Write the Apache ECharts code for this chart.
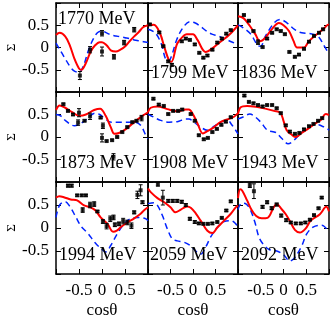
<!DOCTYPE html>
<html>
<head>
<meta charset="utf-8">
<script src="https://cdn.jsdelivr.net/npm/echarts@6/dist/echarts.min.js"></script>
<style>
  html, body { margin: 0; padding: 0; background: #fff; }
  #main { width: 332px; height: 320px; }
</style>
</head>
<body>
<div id="main"></div>
<script>
// panel titles (beam energy)
var energies = ['1770 MeV', '1799 MeV', '1836 MeV', '1873 MeV', '1908 MeV', '1943 MeV', '1994 MeV', '2059 MeV', '2092 MeV'];
var xTicks = [-0.5, 0, 0.5];
var yTicks = [-0.5, 0, 0.5];

// red solid curves [cos, Sigma]
var red1770 = [[-1,0.28],[-0.92,0.33],[-0.8,0.25],[-0.7,0.05],[-0.6,-0.25],[-0.5,-0.47],[-0.45,-0.5],[-0.35,-0.35],[-0.25,-0.1],[-0.15,0.05],[-0.05,0.12],[0,0.12],[0.1,0.05],[0.2,-0.07],[0.3,-0.09],[0.4,-0.05],[0.5,0.02],[0.6,0.14],[0.7,0.25],[0.8,0.35],[0.9,0.46],[1,0.5]];
var red1799 = [[-1,0.5],[-0.87,0.51],[-0.73,0.31],[-0.64,0.02],[-0.53,-0.3],[-0.48,-0.32],[-0.35,0.09],[-0.2,0.27],[-0.14,0.3],[0,0.3],[0.1,0.17],[0.28,-0.1],[0.43,-0.02],[0.61,0.13],[0.8,0.28],[1,0.5]];
var red1836 = [[-1,0.7],[-0.88,0.66],[-0.75,0.5],[-0.62,0.3],[-0.52,0.14],[-0.4,0.22],[-0.25,0.42],[-0.1,0.55],[0,0.5],[0.12,0.37],[0.22,0.15],[0.3,0],[0.45,0],[0.55,0.13],[0.7,0.27],[0.87,0.41],[0.96,0.5],[1,0.52]];
var red1873 = [[-1,0.6],[-0.92,0.7],[-0.8,0.65],[-0.65,0.55],[-0.48,0.47],[-0.35,0.5],[-0.17,0.6],[-0.04,0.63],[0.08,0.47],[0.19,0.22],[0.27,0.07],[0.37,0.09],[0.51,0.17],[0.7,0.33],[0.88,0.47],[1,0.55]];
var red1908 = [[-1,0.55],[-0.94,0.65],[-0.79,0.68],[-0.57,0.62],[-0.35,0.57],[-0.16,0.61],[-0.09,0.61],[-0.01,0.52],[0.1,0.3],[0.22,0.08],[0.32,0.13],[0.47,0.22],[0.61,0.33],[0.76,0.39],[0.91,0.45],[1,0.53]];
var red1943 = [[-1,0.51],[-0.94,0.66],[-0.8,0.69],[-0.6,0.67],[-0.4,0.63],[-0.21,0.58],[-0.07,0.54],[0,0.36],[0.07,0.15],[0.17,0.06],[0.26,0],[0.4,0.09],[0.52,0.17],[0.7,0.3],[0.82,0.38],[0.93,0.51],[1,0.49]];
var red1994 = [[-1,0.66],[-0.93,0.69],[-0.83,0.67],[-0.68,0.62],[-0.54,0.6],[-0.39,0.49],[-0.25,0.45],[-0.14,0.38],[-0.03,0.23],[0.12,0.09],[0.24,-0.08],[0.33,-0.05],[0.41,0.02],[0.55,0.12],[0.7,0.21],[0.84,0.31],[0.91,0.38],[1,0.45]];
var red2059 = [[-1,0.86],[-0.94,0.78],[-0.79,0.65],[-0.64,0.56],[-0.5,0.45],[-0.39,0.34],[-0.27,0.4],[-0.13,0.47],[-0.05,0.44],[0.06,0.32],[0.17,0.16],[0.32,-0.06],[0.43,-0.11],[0.54,0.01],[0.69,0.16],[0.84,0.31],[0.95,0.45],[1,0.49]];
var red2092 = [[-1,0.65],[-0.95,0.84],[-0.9,0.8],[-0.8,0.6],[-0.7,0.39],[-0.6,0.26],[-0.48,0.21],[-0.35,0.22],[-0.22,0.44],[-0.15,0.52],[-0.05,0.42],[0.05,0.3],[0.14,0.15],[0.25,-0.04],[0.36,-0.1],[0.48,-0.02],[0.6,0.16],[0.8,0.3],[0.94,0.46],[1,0.36]];

// blue dashed curves
var blue1770 = [[-1,0.1],[-0.9,-0.08],[-0.8,-0.25],[-0.7,-0.42],[-0.6,-0.53],[-0.5,-0.56],[-0.4,-0.4],[-0.3,-0.08],[-0.2,0.17],[-0.1,0.33],[0,0.37],[0.1,0.33],[0.2,0.28],[0.3,0.26],[0.4,0.24],[0.5,0.22],[0.6,0.2],[0.7,0.17],[0.8,0.15],[0.9,0.13],[1,0.11]];
var blue1799 = [[-1,0.41],[-0.84,0.33],[-0.7,0.07],[-0.62,-0.23],[-0.55,-0.31],[-0.48,-0.2],[-0.36,0.18],[-0.22,0.45],[-0.07,0.58],[0.05,0.55],[0.16,0.48],[0.3,0.37],[0.42,0.3],[0.56,0.26],[0.7,0.2],[0.85,0.13],[1,0.07]];
var blue1836 = [[-1,0.51],[-0.88,0.44],[-0.72,0.3],[-0.57,0.05],[-0.5,0.03],[-0.4,0.25],[-0.2,0.56],[-0.07,0.63],[0.08,0.55],[0.25,0.4],[0.4,0.33],[0.6,0.31],[0.76,0.25],[0.88,0.06],[1,-0.15]];
var blue1873 = [[-1,0.5],[-0.9,0.47],[-0.8,0.37],[-0.6,0.25],[-0.5,0.28],[-0.35,0.38],[-0.15,0.53],[-0.05,0.5],[0.05,0.42],[0.2,0.33],[0.4,0.33],[0.7,0.33],[0.84,0.26],[0.95,0.04],[1,-0.04]];
var blue1908 = [[-1,0.51],[-0.87,0.44],[-0.72,0.37],[-0.53,0.33],[-0.35,0.34],[-0.16,0.4],[-0.09,0.4],[0.02,0.33],[0.17,0.22],[0.32,0.15],[0.47,0.24],[0.61,0.33],[0.76,0.37],[0.87,0.26],[1,0.07]];
var blue1943 = [[-1,0.4],[-0.9,0.44],[-0.74,0.51],[-0.65,0.47],[-0.5,0.33],[-0.35,0.15],[-0.17,0.1],[-0.03,-0.04],[0.1,-0.15],[0.2,-0.1],[0.4,0.1],[0.52,0.18],[0.71,0.29],[0.85,0.24],[0.95,0.2],[1,0.15]];
var blue1994 = [[-1,0.23],[-0.92,0.5],[-0.8,0.57],[-0.7,0.47],[-0.58,0.26],[-0.45,0.03],[-0.32,-0.1],[-0.15,-0.32],[-0.02,-0.45],[0.08,-0.52],[0.19,-0.38],[0.33,-0.13],[0.48,0.09],[0.62,0.2],[0.8,0.23],[0.95,0.2],[1,0.16]];
var blue2059 = [[-1,0.53],[-0.87,0.55],[-0.79,0.49],[-0.68,0.27],[-0.57,-0.02],[-0.46,-0.24],[-0.35,-0.28],[-0.2,-0.31],[-0.05,-0.39],[0.06,-0.5],[0.17,-0.57],[0.28,-0.42],[0.39,-0.2],[0.54,0.01],[0.69,0.14],[0.84,0.16],[0.95,0.09],[1,0.01]];
var blue2092 = [[-1,0.4],[-0.92,0.54],[-0.82,0.52],[-0.73,0.4],[-0.63,0.13],[-0.52,-0.24],[-0.33,-0.46],[-0.15,-0.5],[0,-0.58],[0.14,-0.72],[0.25,-0.64],[0.4,-0.39],[0.51,-0.13],[0.65,0.02],[0.84,0.06],[1,-0.09]];

// measured points [cos, Sigma, error]
var pts1770 = [[-0.48,-0.63,0.09],[-0.26,-0.05,0.07],[0,0.32,0.06],[0,-0.09,0.1],[0.26,-0.21,0.05],[0.48,0.11,0.05],[0.7,0.4,0.05]];
var pts1799 = [[-0.96,0.52,0.02],[-0.75,0.34,0.02],[-0.66,0.03,0.02],[-0.55,-0.31,0.02],[-0.47,-0.39,0.03],[-0.25,0.14,0.02],[-0.16,0.2,0.02],[-0.07,0.17,0.02],[0.04,0.07,0.02],[0.14,-0.12,0.02],[0.23,-0.23,0.02],[0.32,-0.18,0.02],[0.43,-0.05,0.02],[0.54,0.11,0.02],[0.64,0.2,0.02],[0.74,0.31,0.02],[0.84,0.39,0.02]];
var pts1836 = [[-0.87,0.73,0.02],[-0.76,0.6,0.02],[-0.66,0.37,0.02],[-0.56,0.12,0.05],[-0.46,0.01,0.02],[-0.36,0.2,0.02],[-0.25,0.33,0.02],[-0.15,0.41,0.02],[-0.06,0.37,0.02],[0.03,0.3,0.02],[0.13,-0.1,0.02],[0.25,-0.21,0.02],[0.34,-0.16,0.02],[0.45,-0.03,0.02],[0.56,0.13,0.02],[0.67,0.26,0.02],[0.78,0.33,0.02],[0.87,0.41,0.02]];
var pts1873 = [[-0.84,0.73,0.02],[-0.74,0.58,0.02],[-0.63,0.5,0.02],[-0.52,0.32,0.06],[-0.5,0.54,0.09],[-0.38,0.36,0.02],[-0.26,0.46,0.07],[-0.03,0.43,0.02],[0.02,0.25,0.06],[0,-0.02,0.09],[0.1,-0.09,0.02],[0.22,-0.07,0.02],[0.33,0,0.02],[0.44,0.11,0.02],[0.55,0.22,0.02],[0.66,0.33,0.02],[0.75,0.36,0.02],[0.86,0.42,0.06],[0.25,-0.44,0.07]];
var pts1908 = [[-0.88,0.85,0.02],[-0.76,0.72,0.02],[-0.65,0.69,0.02],[-0.55,0.51,0.02],[-0.44,0.58,0.02],[-0.33,0.58,0.02],[-0.24,0.61,0.02],[-0.05,0.51,0.02],[0.04,0.36,0.02],[0.13,0.04,0.02],[0.24,-0.05,0.02],[0.33,-0.02,0.02],[0.43,0.11,0.02],[0.53,0.18,0.02],[0.63,0.27,0.02],[0.73,0.34,0.02],[0.84,0.44,0.02]];
var pts1943 = [[-0.86,0.92,0.02],[-0.76,0.78,0.02],[-0.66,0.75,0.02],[-0.56,0.71,0.02],[-0.46,0.68,0.02],[-0.36,0.71,0.02],[-0.25,0.71,0.02],[-0.15,0.64,0.02],[-0.06,0.53,0.02],[0.05,0.26,0.02],[0.14,0.12,0.02],[0.25,0.07,0.02],[0.35,0.09,0.02],[0.45,0.17,0.02],[0.56,0.24,0.02],[0.66,0.29,0.02],[0.76,0.36,0.02],[0.85,0.42,0.02]];
var pts1994 = [[-0.74,0.92,0.03],[-0.66,0.92,0.03],[-0.54,0.71,0.02],[-0.44,0.71,0.02],[-0.35,0.71,0.02],[-0.42,0.39,0.05],[-0.26,0.5,0.06],[-0.17,0.52,0.05],[-0.1,0.36,0.02],[0.02,0.14,0.04],[0.1,0.04,0.06],[0.18,0.2,0.06],[0.25,0.23,0.05],[0.28,0.07,0.04],[0.37,0.09,0.04],[0.46,0.15,0.06],[0.55,0.12,0.05],[0.64,0.05,0.06],[0.7,0.34,0.03],[0.77,0.72,0.08],[0.84,0.82,0.12],[0.88,0.56,0.03]];
var pts2059 = [[-0.78,0.95,0.04],[-0.67,0.66,0.16],[-0.55,0.59,0.03],[-0.45,0.59,0.03],[-0.35,0.59,0.03],[-0.25,0.57,0.03],[-0.16,0.5,0.03],[-0.07,0.2,0.03],[0.04,0.13,0.03],[0.13,0.1,0.02],[0.23,0.09,0.02],[0.33,0.09,0.02],[0.43,0.1,0.02],[0.54,0.13,0.02],[0.64,0.22,0.02],[0.74,0.38,0.02],[0.84,0.58,0.02]];
var pts2092 = [[-0.74,0.93,0.05],[-0.65,0.8,0.16],[-0.46,0.46,0.03],[-0.36,0.56,0.03],[-0.26,0.43,0.03],[-0.15,0.51,0.03],[-0.05,0.27,0.03],[0.06,0.17,0.03],[0.16,0.12,0.02],[0.27,0.1,0.02],[0.38,0.1,0.02],[0.48,0.12,0.02],[0.58,0.18,0.02],[0.67,0.28,0.02],[0.77,0.43,0.02],[0.84,0.66,0.02]];

var redCurves = [red1770, red1799, red1836, red1873, red1908, red1943, red1994, red2059, red2092];
var blueCurves = [blue1770, blue1799, blue1836, blue1873, blue1908, blue1943, blue1994, blue2059, blue2092];
var points = [pts1770, pts1799, pts1836, pts1873, pts1908, pts1943, pts1994, pts2059, pts2092];

// layout
var colLeft = [56, 148, 238], colW = [92, 90, 91];
var rowTop = [3, 92, 182], rowH = [89, 90, 92];
var labelPos = [[58, 10], [151, 64], [240, 64], [59, 154], [151, 154], [241, 154], [59, 246], [150, 246], [241, 246]];

var FONT = 'Liberation Serif';
var chart = echarts.init(document.getElementById('main'), null, { renderer: 'canvas' });

function tickText(v) {
  for (var k = 0; k < xTicks.length; k++) if (Math.abs(v - xTicks[k]) < 1e-9) return String(xTicks[k]);
  return '';
}

function renderErr(params, api) {
  var x = api.value(0), y = api.value(1), e = api.value(2);
  var lo = api.coord([x, y - e]), hi = api.coord([x, y + e]);
  var w = 2;
  var st = { stroke: '#000', lineWidth: 1 };
  return { type: 'group', children: [
    { type: 'line', shape: { x1: lo[0], y1: lo[1], x2: hi[0], y2: hi[1] }, style: st },
    { type: 'line', shape: { x1: lo[0] - w, y1: lo[1], x2: lo[0] + w, y2: lo[1] }, style: st },
    { type: 'line', shape: { x1: hi[0] - w, y1: hi[1], x2: hi[0] + w, y2: hi[1] }, style: st }
  ]};
}

var grid = [], xAxis = [], yAxis = [], series = [], title = [];
var lineBox = { show: true, onZero: false, lineStyle: { color: '#000', width: 1.5 } };
var tickIn = { show: true, inside: true, length: 5, lineStyle: { color: '#000', width: 1 } };

for (var i = 0; i < 9; i++) {
  var r = Math.floor(i / 3), c = i % 3;
  grid.push({ left: colLeft[c], top: rowTop[r], width: colW[c], height: rowH[r], containLabel: false });
  var bottomRow = r === 2, leftCol = c === 0;
  xAxis.push({
    type: 'value', gridIndex: i, min: -1, max: 1, interval: 0.5, position: 'bottom',
    axisLine: lineBox, axisTick: tickIn, splitLine: { show: false },
    axisLabel: { show: bottomRow, formatter: tickText, margin: 8, color: '#000', fontFamily: FONT, fontSize: 17 },
    name: bottomRow ? 'cosθ' : '', nameLocation: 'middle', nameGap: 28,
    nameTextStyle: { color: '#000', fontFamily: FONT, fontSize: 17 }
  });
  xAxis.push({
    type: 'value', gridIndex: i, min: -1, max: 1, interval: 0.5, position: 'top',
    axisLine: lineBox, axisTick: tickIn, splitLine: { show: false }, axisLabel: { show: false }
  });
  yAxis.push({
    type: 'value', gridIndex: i, min: -1, max: 1, interval: 0.5, position: 'left',
    axisLine: lineBox, axisTick: tickIn, splitLine: { show: false },
    axisLabel: { show: leftCol, formatter: function (v) {
      for (var k = 0; k < yTicks.length; k++) if (Math.abs(v - yTicks[k]) < 1e-9) return String(yTicks[k]);
      return '';
    }, margin: 7, color: '#000', fontFamily: FONT, fontSize: 17 },
    name: leftCol ? 'Σ' : '', nameLocation: 'middle', nameGap: 37, nameRotate: 90,
    nameTextStyle: { color: '#000', fontFamily: FONT, fontSize: 13 }
  });
  yAxis.push({
    type: 'value', gridIndex: i, min: -1, max: 1, interval: 0.5, position: 'right',
    axisLine: lineBox, axisTick: tickIn, splitLine: { show: false }, axisLabel: { show: false }
  });

  var xi = i * 2, yi = i * 2;
  series.push({
    type: 'line', xAxisIndex: xi, yAxisIndex: yi, data: blueCurves[i], showSymbol: false, smooth: 0.35,
    lineStyle: { color: '#0022ff', width: 1.5, type: [6, 4] }, z: 2
  });
  series.push({
    type: 'line', xAxisIndex: xi, yAxisIndex: yi, data: redCurves[i], showSymbol: false, smooth: 0.35,
    lineStyle: { color: '#ff0000', width: 2 }, z: 3
  });
  series.push({
    type: 'custom', xAxisIndex: xi, yAxisIndex: yi, data: points[i], renderItem: renderErr,
    encode: { x: 0, y: 1 }, z: 4
  });
  series.push({
    type: 'scatter', xAxisIndex: xi, yAxisIndex: yi, data: points[i].map(function (p) { return [p[0], p[1]]; }),
    symbol: 'rect', symbolSize: 4, itemStyle: { color: '#000' }, z: 5
  });

  title.push({
    text: energies[i], left: labelPos[i][0], top: labelPos[i][1], padding: 0,
    textStyle: { color: '#000', fontFamily: FONT, fontSize: 18, fontWeight: 'normal' }
  });
}

chart.setOption({
  animation: false,
  backgroundColor: '#fff',
  title: title,
  grid: grid,
  xAxis: xAxis,
  yAxis: yAxis,
  series: series
});
</script>
</body>
</html>
